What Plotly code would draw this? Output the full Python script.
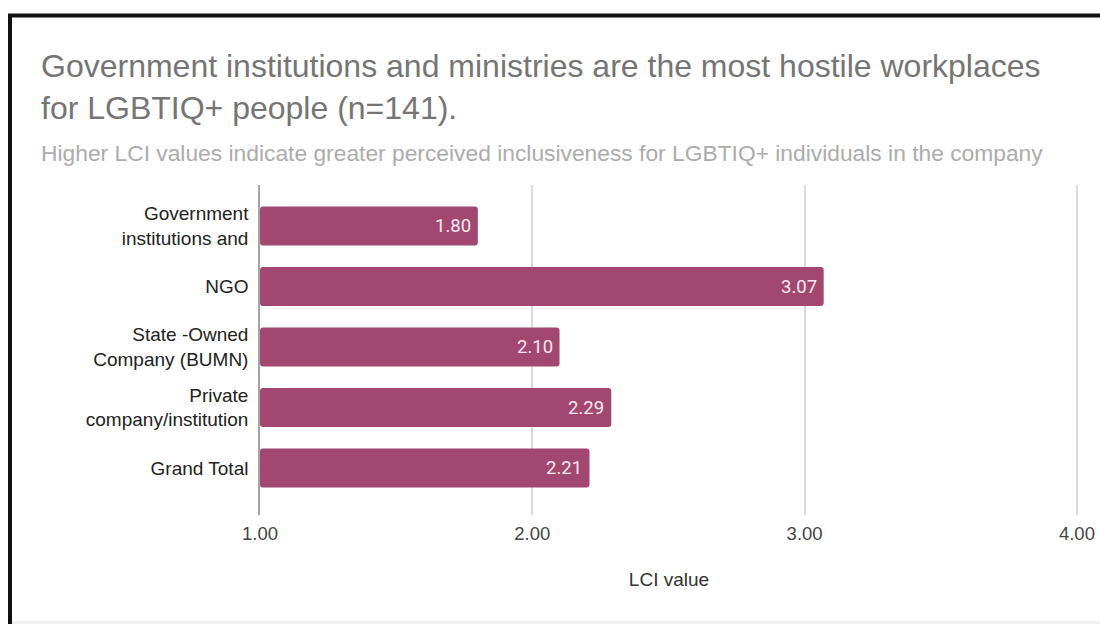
import plotly.graph_objects as go

# Mean LCI score per workplace type
categories = [
    "Government<br>institutions and",
    "NGO",
    "State -Owned<br>Company (BUMN)",
    "Private<br>company/institution",
    "Grand Total",
]
lci_values = [1.80, 3.07, 2.10, 2.29, 2.21]
x_ticks = [1.0, 2.0, 3.0, 4.0]
x_tick_labels = ["1.00", "2.00", "3.00", "4.00"]

TITLE = ("Government institutions and ministries are the most hostile workplaces"
         "<br>for LGBTIQ+ people (n=141).")
SUBTITLE = ("Higher LCI values indicate greater perceived inclusiveness for "
            "LGBTIQ+ individuals in the company")

W, H = 1100, 624
ML, MR, MT, MB = 260, 22, 185, 109
PW, PH = W - ML - MR, H - MT - MB
BASE = 1.0
BAR_COLOR = "#a2476f"


def px_x(px):
    return (px - ML) / PW


def px_y(py):
    return (H - MB - py) / PH


fig = go.Figure(
    go.Bar(
        y=categories,
        x=[v - BASE for v in lci_values],
        base=BASE,
        orientation="h",
        marker=dict(color=BAR_COLOR, line=dict(width=0)),
        width=0.645,
        hoverinfo="skip",
    )
)

# value labels inside the bar ends
annotations = [
    dict(x=v, y=c, xref="x", yref="y", text=f"{v:.2f}", showarrow=False,
         xanchor="right", xshift=-5,
         font=dict(family="Roboto", size=18.5, color="#f6eaf0"))
    for c, v in zip(categories, lci_values)
]

annotations += [
    dict(x=px_x(39), y=px_y(87), xref="paper", yref="paper", text=TITLE,
         showarrow=False, xanchor="left", yanchor="middle", align="left",
         font=dict(family="Liberation Sans", size=32, color="#757575")),
    dict(x=px_x(39), y=px_y(153), xref="paper", yref="paper", text=SUBTITLE,
         showarrow=False, xanchor="left", yanchor="middle", align="left",
         font=dict(family="Liberation Sans", size=22.8, color="#acacac")),
]

shapes = [
    # light strip along the bottom edge
    dict(type="rect", xref="paper", yref="paper",
         x0=px_x(12), x1=px_x(1110), y0=px_y(621), y1=px_y(630),
         fillcolor="#f1f1f1", line=dict(width=0), layer="below"),
    # frame
    dict(type="rect", xref="paper", yref="paper",
         x0=px_x(10), x1=px_x(1112), y0=px_y(640), y1=px_y(15.5),
         line=dict(color="#111111", width=4), fillcolor="rgba(0,0,0,0)"),
]

fig.update_layout(
    width=W, height=H,
    margin=dict(l=ML, r=MR, t=MT, b=MB, pad=0, autoexpand=False),
    paper_bgcolor="white", plot_bgcolor="white",
    showlegend=False,
    barcornerradius=3,
    annotations=annotations,
    shapes=shapes,
    font=dict(family="Liberation Sans", color="#333333"),
)

fig.update_xaxes(
    range=[1, 4.004], tickvals=x_ticks, ticktext=x_tick_labels,
    showgrid=True, gridcolor="#dadada", gridwidth=1.5,
    zeroline=False, showline=False, ticks="",
    tickfont=dict(family="Liberation Sans", size=18.5, color="#444444"),
    ticklabelstandoff=5,
    automargin=False,
    title=dict(text="LCI value", standoff=30,
               font=dict(family="Liberation Sans", size=19, color="#333333")),
    fixedrange=True,
)

fig.update_yaxes(
    type="category", categoryorder="array", categoryarray=categories,
    range=[4.777, -0.678],
    showgrid=False, zeroline=False,
    showline=True, linecolor="#a6a6a6", linewidth=1.5,
    ticks="", ticklabelstandoff=6,
    automargin=False,
    tickfont=dict(family="Liberation Sans", size=19, color="#222222"),
    fixedrange=True,
)

fig.write_html("out.html")
